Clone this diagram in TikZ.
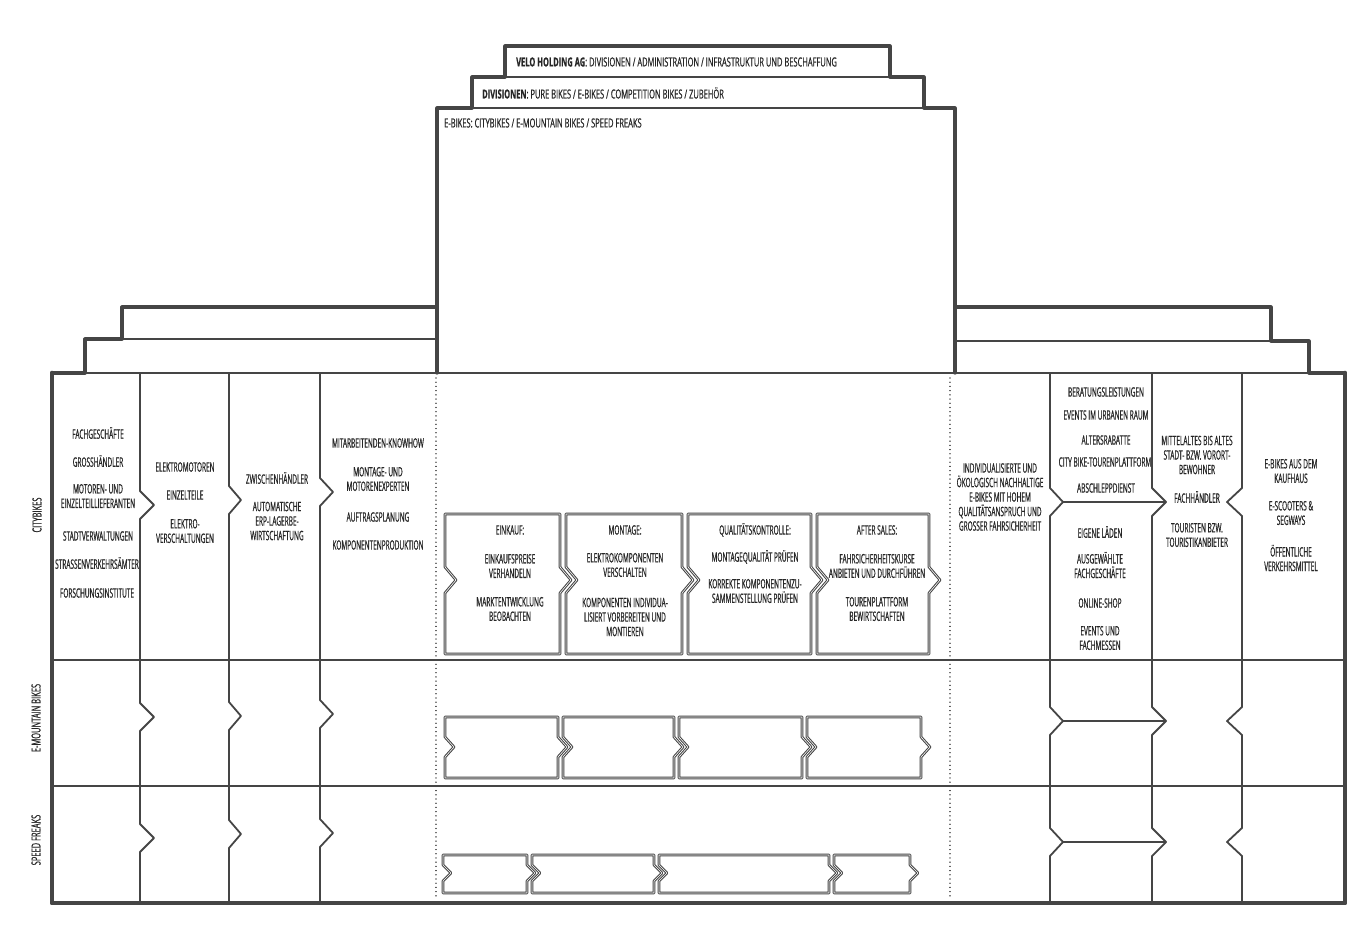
\documentclass[tikz,border=0pt]{standalone}
\usepackage{fontspec}
\newfontfamily\handfont{Open Sans}[FakeStretch=0.5, FakeBold=0.6]
\newfontfamily\handwide{Open Sans}[FakeStretch=0.6, FakeBold=0.6]
\definecolor{ink}{HTML}{454545}
\definecolor{txtc}{HTML}{262626}
\newcommand{\chevline}[7]{%
  \draw[thinline] (#1,#2) -- (#1,{#4-14}) -- ({#1+(#7)},#4) -- (#1,{#4+14})
    -- (#1,{#5-14}) -- ({#1+(#7)},#5) -- (#1,{#5+14})
    -- (#1,{#6-14}) -- ({#1+(#7)},#6) -- (#1,{#6+14}) -- (#1,#3);}
\newcommand{\pbox}[7]{%
  \draw[procbox] (#1,#3) -- (#2,#3) -- (#2,{#5-#6}) -- ({#2+#7},#5) -- (#2,{#5+#6})
    -- (#2,#4) -- (#1,#4) -- (#1,{#5+#6}) -- ({#1+#7},#5) -- (#1,{#5-#6}) -- cycle;}
\begin{document}
\begin{tikzpicture}[x=1pt,y=-1pt,
  txt/.style={font=\handfont\fontsize{13}{14.5}\selectfont, align=center, inner sep=0pt, text=txtc},
  toptxt/.style={font=\handwide\fontsize{12.5}{14.5}\selectfont, inner sep=0pt, text=txtc, anchor=west},
  frame/.style={draw=ink, line width=3.2pt, line join=round, line cap=round},
  heavy/.style={draw=ink, line width=4.6pt, line join=round, line cap=round},
  midline/.style={draw=ink, line width=2.4pt, line cap=round},
  thinline/.style={draw=ink, line width=1.8pt, line join=round, line cap=round},
  procbox/.style={draw=ink, line width=1.05pt, double=white, double distance=0.6pt, line join=round},
  dotline/.style={draw=ink, line width=1.4pt, dash pattern=on 0.01pt off 4.2pt, line cap=round},
]
\useasboundingbox[fill=white] (0,0) rectangle (1369,946);

% interior lines of stairs and top boxes
\draw[midline] (505,77) -- (890,77);
\draw[midline] (472,108) -- (924,108);
\draw[midline] (122,339) -- (437,339);
\draw[midline] (955,341) -- (1271,341);
\draw[thinline] (85,373) -- (1309,373);
\draw[frame] (437,307) -- (437,373);
\draw[frame] (955,307) -- (955,373);

% row lines
\draw[thinline] (52,660) -- (1345,660);
\draw[thinline] (52,786) -- (1345,786);

% dotted separators
\draw[dotline] (436,378) -- (436,900);
\draw[dotline] (950,378) -- (950,900);

% column lines with chevrons (left)
\chevline{140}{373}{903}{505}{717}{838}{14}
\chevline{229}{373}{903}{500}{716}{834}{12}
\chevline{320}{373}{903}{492}{714}{833}{13}
% right
\chevline{1050}{373}{903}{502}{721}{842}{13}
\chevline{1152}{373}{903}{502}{721}{842}{14}
\chevline{1242}{373}{903}{502}{721}{842}{-15}
\draw[thinline] (1063,502) -- (1166,502);
\draw[thinline] (1063,721) -- (1166,721);
\draw[thinline] (1063,842) -- (1166,842);

% silhouette
\draw[frame] (52,903) -- (52,373) -- (85,373) -- (85,339) -- (122,339) -- (122,307)
  -- (437,307) -- (437,108) -- (472,108) -- (472,77) -- (505,77) -- (505,46)
  -- (890,46) -- (890,77) -- (924,77) -- (924,108) -- (955,108) -- (955,307)
  -- (1271,307) -- (1271,341) -- (1309,341) -- (1309,373) -- (1345,373) -- (1345,903) -- cycle;
\draw[heavy] (52,373) -- (52,903) -- (1345,903) -- (1345,373);

% process boxes row 1
\pbox{445}{560}{514}{654}{580}{13}{11}
\pbox{566}{682}{514}{654}{580}{13}{11}
\pbox{688}{811}{514}{654}{580}{13}{11}
\pbox{817}{929}{514}{654}{580}{13}{11}
% row 2
\pbox{445}{558}{717}{778}{747}{10}{9}
\pbox{563}{674}{717}{778}{747}{10}{9}
\pbox{679}{802}{717}{778}{747}{10}{9}
\pbox{807}{921}{717}{778}{747}{10}{9}
% row 3
\pbox{443}{527}{855}{893}{873}{8}{8}
\pbox{532}{654}{855}{893}{873}{8}{8}
\pbox{659}{829}{855}{893}{873}{8}{8}
\pbox{834}{910}{855}{893}{873}{8}{8}

% top texts
\node[toptxt] (t1) at (516,62) {\textbf{VELO HOLDING AG}: DIVISIONEN / ADMINISTRATION / INFRASTRUKTUR UND BESCHAFFUNG};
\node[toptxt] (t2) at (482,93) {\textbf{DIVISIONEN}: PURE BIKES / E-BIKES / COMPETITION BIKES / ZUBEHÖR};
\node[toptxt] (t3) at (444,123) {E-BIKES: CITYBIKES / E-MOUNTAIN BIKES / SPEED FREAKS};

% row labels
\node[toptxt, anchor=center, rotate=90] (r1) at (37,515) {CITYBIKES};
\node[toptxt, anchor=center, rotate=90] (r2) at (36,718) {E-MOUNTAIN BIKES};
\node[toptxt, anchor=center, rotate=90] (r3) at (36,840) {SPEED FREAKS};

% column 1
\node[txt] (c1a) at (98,433) {FACHGESCHÄFTE};
\node[txt] (c1b) at (98,461) {GROSSHÄNDLER};
\node[txt] (c1c) at (98,496) {MOTOREN- UND\\EINZELTEILLIEFERANTEN};
\node[txt] (c1d) at (98,536) {STADTVERWALTUNGEN};
\node[txt] (c1e) at (97,563) {STRASSENVERKEHRSÄMTER};
\node[txt] (c1f) at (97,593) {FORSCHUNGSINSTITUTE};
% column 2
\node[txt] (c2a) at (185,467) {ELEKTROMOTOREN};
\node[txt] (c2b) at (185,495) {EINZELTEILE};
\node[txt] (c2c) at (185,531) {ELEKTRO-\\VERSCHALTUNGEN};
% column 3
\node[txt] (c3a) at (277,478) {ZWISCHENHÄNDLER};
\node[txt] (c3b) at (277,521) {AUTOMATISCHE\\ERP-LAGERBE-\\WIRTSCHAFTUNG};
% column 4
\node[txt] (c4a) at (378,443) {MITARBEITENDEN-KNOWHOW};
\node[txt] (c4b) at (378,479) {MONTAGE- UND\\MOTORENEXPERTEN};
\node[txt] (c4c) at (378,517) {AUFTRAGSPLANUNG};
\node[txt] (c4d) at (378,545) {KOMPONENTENPRODUKTION};

% process texts
\node[txt] (p1a) at (510,530) {EINKAUF:};
\node[txt] (p1b) at (510,566) {EINKAUFSPREISE\\VERHANDELN};
\node[txt] (p1c) at (510,609) {MARKTENTWICKLUNG\\BEOBACHTEN};
\node[txt] (p2a) at (625,530) {MONTAGE:};
\node[txt] (p2b) at (625,565) {ELEKTROKOMPONENTEN\\VERSCHALTEN};
\node[txt] (p2c) at (625,617) {KOMPONENTEN INDIVIDUA-\\LISIERT VORBEREITEN UND\\MONTIEREN};
\node[txt] (p3a) at (755,530) {QUALITÄTSKONTROLLE:};
\node[txt] (p3b) at (755,557) {MONTAGEQUALITÄT PRÜFEN};
\node[txt] (p3c) at (755,591) {KORREKTE KOMPONENTENZU-\\SAMMENSTELLUNG PRÜFEN};
\node[txt] (p4a) at (877,530) {AFTER SALES:};
\node[txt] (p4b) at (877,566) {FAHRSICHERHEITSKURSE\\ANBIETEN UND DURCHFÜHREN};
\node[txt] (p4c) at (877,609) {TOURENPLATTFORM\\BEWIRTSCHAFTEN};

% column A
\node[txt] (ca) at (1000,497) {INDIVIDUALISIERTE UND\\ÖKOLOGISCH NACHHALTIGE\\E-BIKES MIT HOHEM\\QUALITÄTSANSPRUCH UND\\GROSSER FAHRSICHERHEIT};
% column B
\node[txt] (cba) at (1106,392) {BERATUNGSLEISTUNGEN};
\node[txt] (cbb) at (1106,415) {EVENTS IM URBANEN RAUM};
\node[txt] (cbc) at (1106,440) {ALTERSRABATTE};
\node[txt] (cbd) at (1105,462) {CITY BIKE-TOURENPLATTFORM};
\node[txt] (cbe) at (1106,488) {ABSCHLEPPDIENST};
\node[txt] (cbf) at (1100,532) {EIGENE LÄDEN};
\node[txt] (cbg) at (1100,565) {AUSGEWÄHLTE\\FACHGESCHÄFTE};
\node[txt] (cbh) at (1100,603) {ONLINE-SHOP};
\node[txt] (cbi) at (1100,638) {EVENTS UND\\FACHMESSEN};
% column C
\node[txt] (cca) at (1197,455) {MITTELALTES BIS ALTES\\STADT- BZW. VORORT-\\BEWOHNER};
\node[txt] (ccb) at (1197,497) {FACHHÄNDLER};
\node[txt] (ccc) at (1197,535) {TOURISTEN BZW.\\TOURISTIKANBIETER};
% column D
\node[txt] (cda) at (1291,471) {E-BIKES AUS DEM\\KAUFHAUS};
\node[txt] (cdb) at (1291,513) {E-SCOOTERS \&\\SEGWAYS};
\node[txt] (cdc) at (1291,558) {ÖFFENTLICHE\\VERKEHRSMITTEL};
\end{tikzpicture}
\end{document}
